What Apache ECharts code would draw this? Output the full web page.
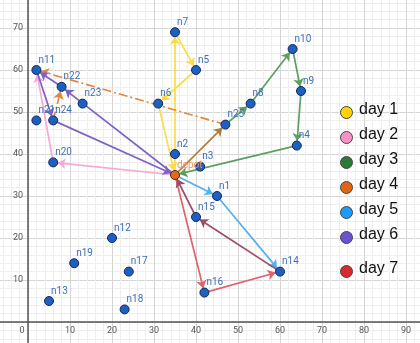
<!DOCTYPE html>
<html>
<head>
<meta charset="utf-8">
<script src="https://cdn.jsdelivr.net/npm/echarts@6/dist/echarts.min.js"></script>
<style>html,body{margin:0;padding:0;background:#fff;}#c{width:420px;height:343px;}</style>
</head>
<body>
<div id="c"></div>
<script>
// ---- data ----
const nodeNames = ['depot','n1','n2','n3','n4','n5','n6','n7','n8','n9','n10','n11','n12','n13','n14','n15','n16','n17','n18','n19','n20','n21','n22','n23','n24','n25'];
const nodeX = [35,45,35,41,64,40,31,35,53,65,63,2,20,5,60,40,42,24,23,11,6,2,8,13,6,47];
const nodeY = [35,30,40,37,42,60,52,69,52,55,65,60,20,5,12,25,7,12,3,14,38,48,56,52,48,47];

const day1Route = ['depot','n7','n5','n6','depot'];
const day2Route = ['depot','n20','n11'];
const day3Route = ['n25','n8','n10','n9','n4','depot'];
const day4Route = ['depot','n25'];
const day4Dashed = [['n25','n11'],['n24','n22']];
const day5Route = ['depot','n1','n14'];
const day6Route = ['depot','n22','n11','n24','depot'];
const day7Route = ['depot','n16','n14'];
const sharedReturn = ['n14','n15','depot'];

const dayLabels = ['day 1','day 2','day 3','day 4','day 5','day 6','day 7'];
const xTicks = [0,10,20,30,40,50,60,70,80,90];
const yTicks = [10,20,30,40,50,60,70];

// ---- styles ----
const edgeColors = {d1:'#fbdc45', d2:'#f6a9d6', d3:'#5e9e62', d4:'#b47a3c', d4d:'#e0853a', d5:'#52b2ee', d6:'#7f62c6', d7:'#de6270', shared:'#9b4c68'};
const legendColors = ['#ffd400','#f592c6','#2b7a38','#de6614','#1c9cf8','#6b52cf','#d42b2f'];
const legendY = [112,137,162,187,212,237,271];

function routeLinks(route, color, extra) {
  const out = [];
  for (let i = 0; i < route.length - 1; i++) {
    out.push({source: route[i], target: route[i+1], lineStyle: Object.assign({color: color, width: 1.7, opacity: 1}, extra || {})});
  }
  return out;
}
let links = [];
links = links.concat(routeLinks(day1Route, edgeColors.d1));
links = links.concat(routeLinks(day2Route, edgeColors.d2));
links = links.concat(routeLinks(day3Route, edgeColors.d3));
links = links.concat(routeLinks(day4Route, edgeColors.d4));
day4Dashed.forEach(p => links = links.concat(routeLinks(p, edgeColors.d4d, {type:[9,3,2,3], width:1.6})));
links = links.concat(routeLinks(day5Route, edgeColors.d5));
links = links.concat(routeLinks(day6Route, edgeColors.d6));
links = links.concat(routeLinks(day7Route, edgeColors.d7));
links = links.concat(routeLinks(sharedReturn, edgeColors.shared));

const nodes = nodeNames.map((n, i) => {
  const isDepot = n === 'depot';
  return {
    name: n,
    value: [nodeX[i], nodeY[i]],
    itemStyle: isDepot ? {color:'#e3691c', borderColor:'#5a2a08', borderWidth:1} : {color:'#1f5fbf', borderColor:'#0c2b5e', borderWidth:1},
    label: isDepot ? {color:'#e8955a'} : {}
  };
});

const graphic = [];
legendY.forEach((y, i) => {
  graphic.push({type:'circle', left: 340, top: y - 6, shape:{r:6}, style:{fill: legendColors[i], stroke:'#444', lineWidth:1}, z: 100});
  graphic.push({type:'text', left: 359, top: y - 10, style:{text: dayLabels[i], fill:'#111', font:'16px "Liberation Sans", Arial, sans-serif'}, z: 100});
});

const chart = echarts.init(document.getElementById('c'), null, {renderer:'canvas'});
chart.setOption({
  animation: false,
  backgroundColor: '#ffffff',
  grid: {left: -14, right: -28, top: -14, bottom: -21, containLabel: false, outerBoundsMode: 'none'},
  xAxis: {
    type: 'value', min: -10, max: 100, interval: 10,
    position: 'bottom', offset: -42,
    axisLine: {onZero: false, lineStyle: {color: '#555', width: 1.5}},
    axisTick: {show: false},
    axisLabel: {show: true, interval: 0, hideOverlap: false, showMinLabel: true, showMaxLabel: true,
      color: '#555', fontSize: 9, margin: 4, fontFamily: 'Roboto, sans-serif',
      formatter: v => v === 0 ? '{o|0}' : (xTicks.indexOf(v) >= 0 ? String(v) : ''),
      rich: {o: {color:'#555', fontSize: 9, padding: [0, 12, 0, 0]}}},
    splitLine: {lineStyle: {color: '#d6d6d6', width: 1}},
    minorTick: {show: false, splitNumber: 5},
    minorSplitLine: {show: true, lineStyle: {color: '#eeeeee', width: 1}}
  },
  yAxis: {
    type: 'value', min: -10, max: 80, interval: 10,
    position: 'left', offset: -42,
    axisLine: {onZero: false, lineStyle: {color: '#555', width: 1.5}},
    axisTick: {show: false},
    axisLabel: {show: true, interval: 0, hideOverlap: false, showMinLabel: true, showMaxLabel: true,
      color: '#555', fontSize: 9, margin: 5, fontFamily: 'Roboto, sans-serif',
      formatter: v => yTicks.indexOf(v) >= 0 ? String(v) : ''},
    splitLine: {lineStyle: {color: '#d6d6d6', width: 1}},
    minorTick: {show: false, splitNumber: 5},
    minorSplitLine: {show: true, lineStyle: {color: '#eeeeee', width: 1}}
  },
  graphic: graphic,
  series: [{
    type: 'graph',
    coordinateSystem: 'cartesian2d',
    layout: 'none',
    symbol: 'circle',
    symbolSize: 9,
    edgeSymbol: ['none', 'arrow'],
    edgeSymbolSize: [0, 8],
    label: {show: true, position: [7, -5], align: 'left', verticalAlign: 'middle', color: '#3d6fb3', fontSize: 10, fontFamily: 'Roboto, sans-serif', formatter: '{b}'},
    emphasis: {disabled: true},
    data: nodes,
    links: links,
    z: 5
  }]
});
</script>
</body>
</html>
